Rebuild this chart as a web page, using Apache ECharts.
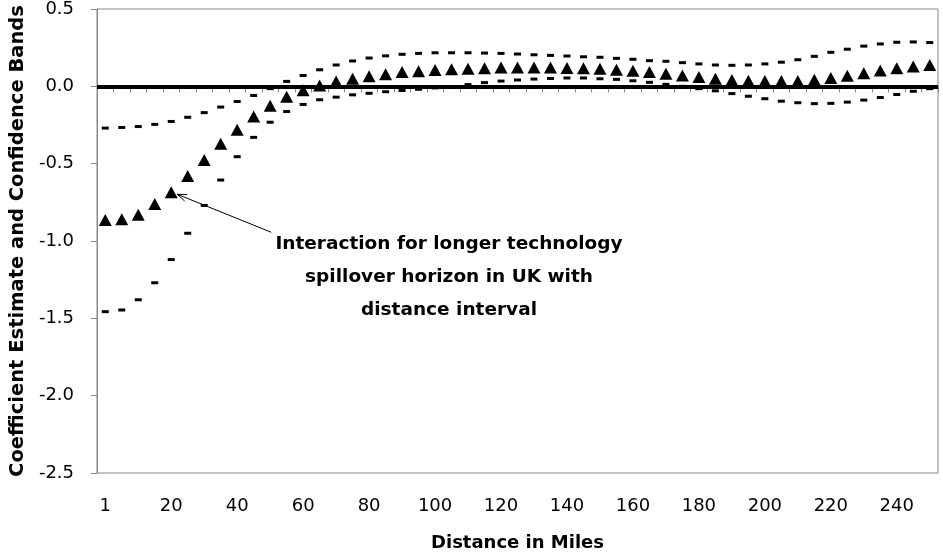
<!DOCTYPE html>
<html>
<head>
<meta charset="UTF-8">
<title>distance interval</title>
<script type="text/javascript" src="https://cdn.jsdelivr.net/npm/echarts@6/dist/echarts.min.js"></script>
<style>
  html, body { margin: 0; padding: 0; background: #fff; }
  #container { width: 943px; height: 557px; }
</style>
</head>
<body>
<div id="container"></div>
<script type="text/javascript">
    // distance bins (miles)
    var distances = [1, 5, 10, 15, 20, 25, 30, 35, 40, 45, 50, 55, 60, 65, 70, 75, 80, 85, 90, 95,
        100, 105, 110, 115, 120, 125, 130, 135, 140, 145, 150, 155, 160, 165, 170, 175, 180, 185, 190, 195,
        200, 205, 210, 215, 220, 225, 230, 235, 240, 245, 250];

    // coefficient estimate
    var estimate = [-0.865, -0.86, -0.83, -0.76, -0.685, -0.58, -0.476, -0.372, -0.28, -0.195,
        -0.125, -0.068, -0.025, 0.006, 0.032, 0.049, 0.066, 0.078, 0.092, 0.098,
        0.105, 0.111, 0.113, 0.117, 0.121, 0.121, 0.121, 0.121, 0.119, 0.117,
        0.113, 0.107, 0.1, 0.092, 0.082, 0.07, 0.06, 0.049, 0.041, 0.036,
        0.034, 0.034, 0.034, 0.043, 0.054, 0.068, 0.085, 0.102, 0.117, 0.128, 0.138];

    // upper confidence band
    var upperBand = [-0.27, -0.266, -0.26, -0.246, -0.227, -0.2, -0.17, -0.134, -0.098, -0.059,
        -0.015, 0.032, 0.07, 0.107, 0.138, 0.164, 0.183, 0.197, 0.207, 0.213,
        0.217, 0.217, 0.217, 0.215, 0.213, 0.209, 0.204, 0.2, 0.196, 0.191,
        0.188, 0.181, 0.175, 0.166, 0.162, 0.153, 0.145, 0.138, 0.136, 0.138,
        0.145, 0.156, 0.172, 0.194, 0.22, 0.24, 0.26, 0.274, 0.285, 0.287, 0.283];

    // lower confidence band
    var lowerBand = [-1.457, -1.446, -1.38, -1.27, -1.12, -0.95, -0.77, -0.606, -0.455, -0.33,
        -0.232, -0.163, -0.117, -0.087, -0.07, -0.055, -0.045, -0.035, -0.027, -0.019,
        -0.01, -0.003, 0.011, 0.024, 0.034, 0.041, 0.047, 0.051, 0.054, 0.054,
        0.049, 0.045, 0.036, 0.026, 0.013, 0, -0.015, -0.029, -0.047, -0.064,
        -0.08, -0.096, -0.106, -0.112, -0.11, -0.102, -0.089, -0.072, -0.053, -0.032, -0.015];

    var noteLines = ['Interaction for longer technology', 'spillover horizon in UK with', 'distance interval'];

    var fontName = 'DejaVu Sans';
    var dom = document.getElementById('container');
    var myChart = echarts.init(dom);

    var bandSeries = function (name, data) {
        return {
            name: name,
            type: 'line',
            data: data,
            symbol: 'rect',
            symbolSize: [7, 3],
            showAllSymbol: true,
            lineStyle: {opacity: 0},
            itemStyle: {color: '#000'},
            silent: true
        };
    };

    var lower = bandSeries('Lower', lowerBand);
    // thick zero line across the plot
    lower.markLine = {
        silent: true,
        symbol: 'none',
        label: {show: false},
        lineStyle: {color: '#000', width: 4, type: 'solid'},
        data: [{yAxis: 0}]
    };

    myChart.setOption({
        animation: false,
        textStyle: {fontFamily: fontName},
        grid: {
            left: 92, right: 5, top: 8, bottom: 79,
            show: true, borderColor: '#868686', borderWidth: 1
        },
        xAxis: {
            type: 'category',
            data: distances,
            boundaryGap: true,
            name: 'Distance in Miles',
            nameLocation: 'middle',
            nameGap: 61,
            nameTextStyle: {fontSize: 18, fontWeight: 'bold', color: '#000', fontFamily: fontName},
            axisLine: {lineStyle: {color: '#868686'}},
            axisTick: {show: true, interval: 0, length: 6, lineStyle: {color: '#868686'}},
            axisLabel: {interval: 3, margin: 24, fontSize: 18, color: '#000', fontFamily: fontName},
            splitLine: {show: false}
        },
        yAxis: {
            type: 'value',
            min: -2.5,
            max: 0.5,
            interval: 0.5,
            name: 'Coefficient Estimate and Confidence Bands',
            nameLocation: 'middle',
            nameGap: 67,
            nameTextStyle: {fontSize: 19.5, fontWeight: 'bold', color: '#000', fontFamily: fontName},
            axisLine: {show: true, lineStyle: {color: '#868686'}},
            axisTick: {show: true, length: 6, lineStyle: {color: '#868686'}},
            axisLabel: {
                margin: 23, fontSize: 18, color: '#000', fontFamily: fontName,
                formatter: function (v) { return v.toFixed(1); }
            },
            splitLine: {show: false}
        },
        series: [
            lower,
            bandSeries('Upper', upperBand),
            {
                name: 'Estimate',
                type: 'line',
                data: estimate,
                symbol: 'triangle',
                symbolSize: [13, 12],
                showAllSymbol: true,
                lineStyle: {opacity: 0},
                itemStyle: {color: '#000'},
                silent: true
            }
        ]
    });

    // annotation: arrow pointing at the 20-mile estimate
    var tip = myChart.convertToPixel({seriesIndex: 2}, [4, estimate[4]]);
    var hx = tip[0] + 6, hy = tip[1] + 2;
    var tail = [hx + 94, hy + 38];
    var ang = Math.atan2(tail[1] - hy, tail[0] - hx);
    var head = 10, spread = 0.35;
    myChart.setOption({
        graphic: [
            {
                type: 'line',
                shape: {x1: tail[0], y1: tail[1], x2: hx, y2: hy},
                style: {stroke: '#000', lineWidth: 1}
            },
            {
                type: 'polyline',
                shape: {points: [
                    [hx + head * Math.cos(ang - spread), hy + head * Math.sin(ang - spread)],
                    [hx, hy],
                    [hx + head * Math.cos(ang + spread), hy + head * Math.sin(ang + spread)]
                ]},
                style: {stroke: '#000', lineWidth: 1, fill: null}
            },
            {
                type: 'text',
                x: 449,
                y: 228,
                style: {
                    text: noteLines.join('\n'),
                    font: 'bold 18.5px ' + fontName,
                    fill: '#000',
                    align: 'center',
                    verticalAlign: 'top',
                    lineHeight: 33
                }
            }
        ]
    });
</script>
</body>
</html>
